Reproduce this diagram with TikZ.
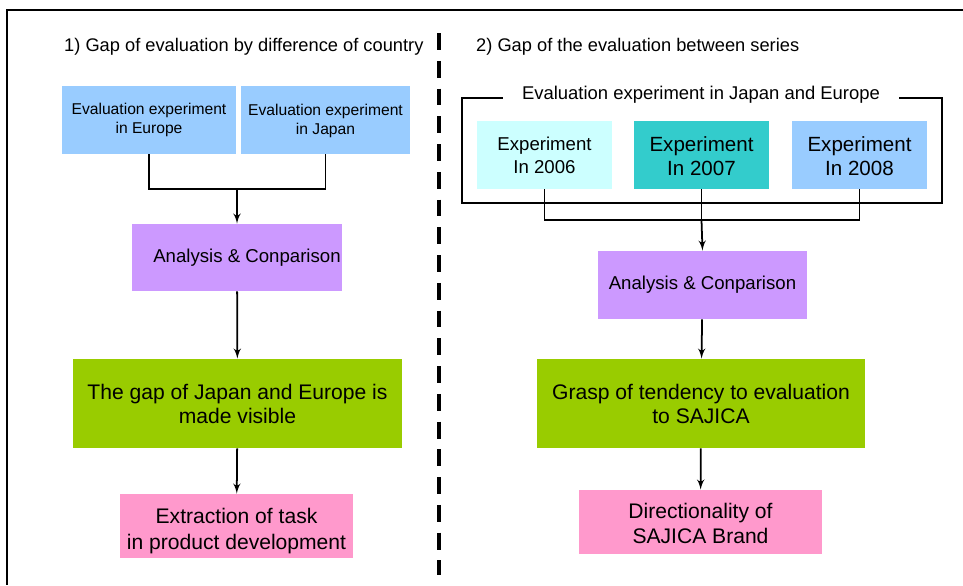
\documentclass[tikz,border=0pt]{standalone}
\usepackage{fontspec}
\setmainfont{Liberation Sans}
\usetikzlibrary{arrows}
\usetikzlibrary{positioning}
\definecolor{skyblue}{HTML}{99CCFF}
\definecolor{lilac}{HTML}{CC99FF}
\definecolor{leaf}{HTML}{99CC00}
\definecolor{rose}{HTML}{FF99CC}
\definecolor{paleaqua}{HTML}{CCFFFF}
\definecolor{teal}{HTML}{33CCCC}
\tikzset{box/.style = {rectangle, inner sep = 0, align = center},
         sz/.style 2 args = {minimum width = #1*0.02cm, minimum height = #2*0.02cm},
         link/.style = {line width = 1pt, >=latex'}}

\begin{document}
\begin{tikzpicture}[x = 0.02cm, y = -0.02cm]
      \useasboundingbox (0, 0) rectangle (963, 585);
      \draw [line width = 1.1pt] (963, 10) -- (7, 10) -- (7, 585);
      \draw [line width = 2.3pt, dash pattern = on 9.6pt off 6.2pt] (439, 33) -- (439, 575);

      % left side
      \node (ttl1) [anchor = west, font = \fontsize{10.4}{12}\selectfont] at (58, 47) {1) Gap of evaluation by difference of country};
      \node (eu) [box, sz = {174}{68}, fill = skyblue, font = \fontsize{8.9}{10.8}\selectfont] at (149, 120) {Evaluation experiment\\in Europe};
      \node (jp) [box, sz = {169}{68}, fill = skyblue, font = \fontsize{8.9}{10.8}\selectfont] at (325.5, 120) {\strut Evaluation experiment\\in Japan};
      \node (anl) [box, sz = {210}{67}, fill = lilac, font = \fontsize{10.6}{12}\selectfont] at (237, 257.5) {\hspace{0.4cm}Analysis \& Conparison};
      \node (gapjp) [box, sz = {329}{89}, fill = leaf, font = \fontsize{12}{13.6}\selectfont] at (237.5, 403.5) {\strut The gap of Japan and Europe is\\made visible};
      \node (task) [box, sz = {233}{64}, fill = rose, font = \fontsize{12}{14.8}\selectfont] at (236.5, 526) {\rule{0pt}{14pt}Extraction of task\\in product development};
      \coordinate (jl) at (237, 189);
      \draw [link] (eu.south) |- (jl) -| (jp.south);
      \draw [link, ->] (jl) -- (anl.north);
      \draw [link, ->] (anl) -- (gapjp);
      \draw [link, ->] (gapjp) -- (task);

      % right side
      \node (ttl2) [anchor = west, font = \fontsize{10.4}{12}\selectfont] at (470, 47) {2) Gap of the evaluation between series};
      \draw [line width = 0.9pt] (462, 98) rectangle (942, 203);
      \node (grp) [fill = white, inner xsep = 0.38cm, inner ysep = 2pt, font = \fontsize{10.5}{12}\selectfont] at (701, 95) {Evaluation experiment in Japan and Europe};
      \node (y06) [box, sz = {135}{68}, fill = paleaqua, font = \fontsize{10.6}{13}\selectfont] at (544.5, 155) {Experiment\\In 2006};
      \node (y07) [box, sz = {135}{68}, fill = teal, font = \fontsize{11.7}{13.6}\selectfont] at (701.5, 155) {\strut Experiment\\In 2007};
      \node (y08) [box, sz = {135}{68}, fill = skyblue, font = \fontsize{11.7}{13.6}\selectfont] at (859.5, 155) {\strut Experiment\\In 2008};
      \node (anr) [box, sz = {209}{68}, fill = lilac, font = \fontsize{10.6}{12}\selectfont] at (702.5, 285) {Analysis \& Conparison};
      \node (grasp) [box, sz = {328}{89}, fill = leaf, font = \fontsize{12}{13.6}\selectfont] at (701, 403.5) {\strut Grasp of tendency to evaluation\\to SAJICA};
      \node (brand) [box, sz = {243}{64}, fill = rose, font = \fontsize{12}{14.5}\selectfont] at (700.5, 522) {\strut Directionality of\\SAJICA Brand};
      \coordinate (jr) at (701.5, 220);
      \draw [link] (y06.south) |- (jr) -| (y08.south);
      \draw [link] (y07.south) -- (jr);
      \draw [link, ->] (jr) -- (anr.north);
      \draw [link, ->] (anr) -- (grasp);
      \draw [link, ->] (grasp) -- (brand);
    \end{tikzpicture}
\end{document}
